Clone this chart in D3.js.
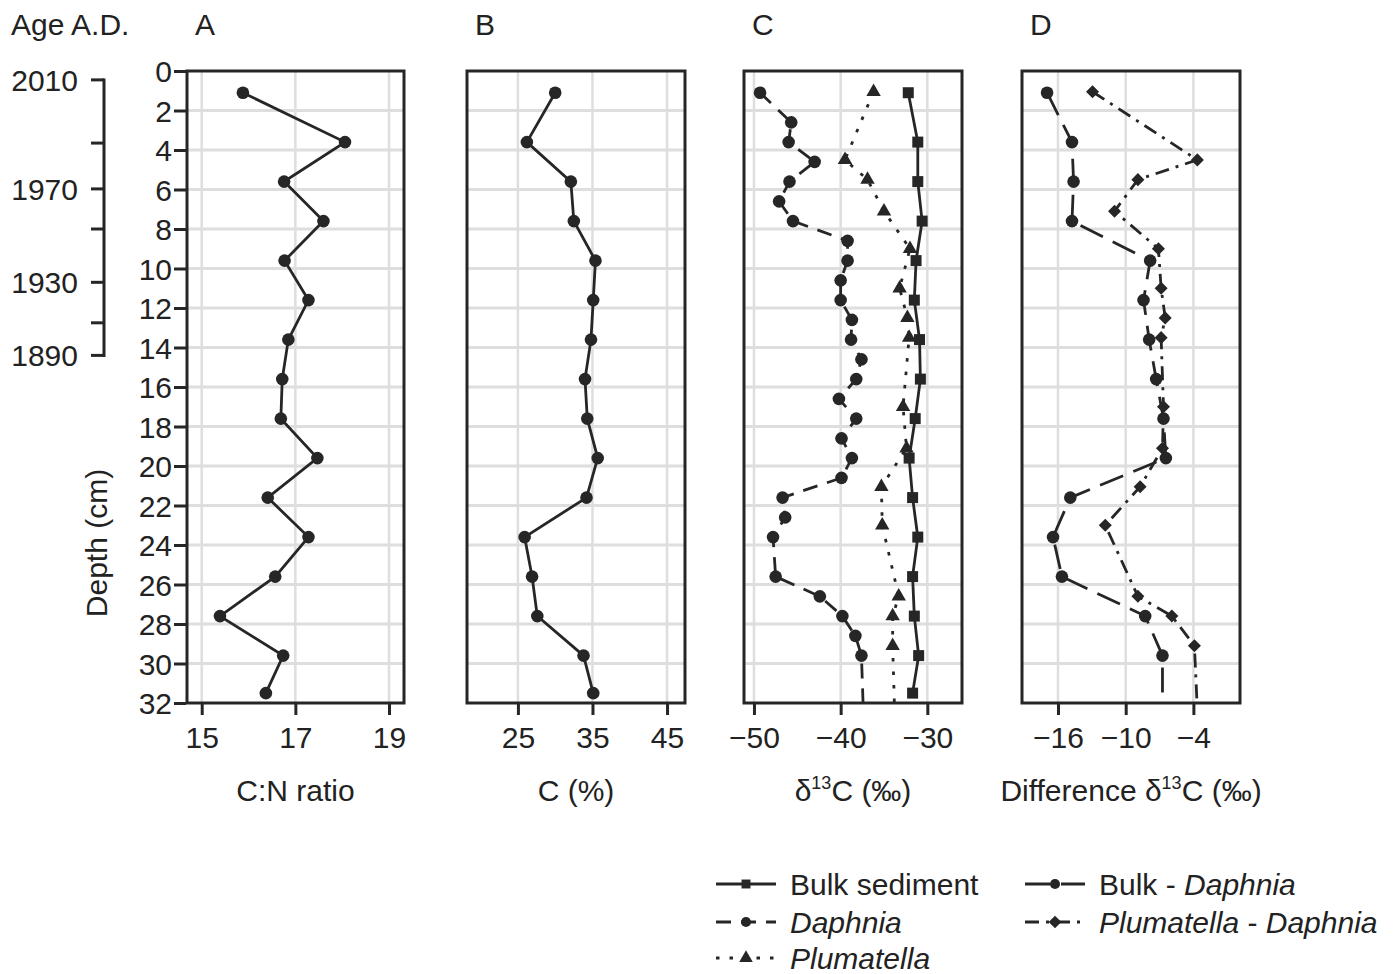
<!DOCTYPE html>
<html>
<head>
<meta charset="utf-8">
<script src="https://cdn.jsdelivr.net/npm/d3@7"></script>
<style>
  body { margin: 0; background: #fff; }
  text { font-family: "Liberation Sans", Arial, sans-serif; fill: #222; }
</style>
</head>
<body>
<svg width="1399" height="974"></svg>
<script>
// depth of the sediment samples (cm)
const depthSed = [1.1, 3.6, 5.6, 7.6, 9.6, 11.6, 13.6, 15.6, 17.6, 19.6, 21.6, 23.6, 25.6, 27.6, 29.6, 31.5];
// A: C:N ratio
const cnRatio = [15.88, 18.06, 16.76, 17.6, 16.77, 17.28, 16.85, 16.72, 16.69, 17.47, 16.41, 17.28, 16.57, 15.39, 16.74, 16.37];
// B: C (%)
const carbonPct = [30.0, 26.2, 32.1, 32.5, 35.4, 35.1, 34.8, 34.0, 34.3, 35.7, 34.2, 25.9, 26.9, 27.6, 33.8, 35.1];
// C: d13C bulk sediment
const bulkD13C = [-32.2, -31.1, -31.1, -30.6, -31.3, -31.5, -30.9, -30.8, -31.4, -32.1, -31.7, -31.1, -31.7, -31.5, -31.0, -31.7];
// C: d13C Daphnia
const daphniaDepth = [1.1, 2.6, 3.6, 4.6, 5.6, 6.6, 7.6, 8.6, 9.6, 10.6, 11.6, 12.6, 13.6, 14.6, 15.6, 16.6, 17.6, 18.6, 19.6, 20.6, 21.6, 22.6, 23.6, 25.6, 26.6, 27.6, 28.6, 29.6, 33.5];
const daphniaD13C = [-49.3, -45.7, -46.0, -43.0, -45.9, -47.1, -45.5, -39.2, -39.2, -40.0, -40.0, -38.7, -38.8, -37.6, -38.2, -40.2, -38.2, -39.9, -38.7, -39.9, -46.7, -46.4, -47.8, -47.5, -42.4, -39.8, -38.3, -37.6, -37.3];
// C: d13C Plumatella
const plumDepth = [1.05, 4.5, 5.5, 7.1, 9.0, 11.0, 12.5, 13.5, 17.0, 19.1, 21.05, 23.0, 26.6, 27.6, 29.1, 33.5];
const plumD13C = [-36.2, -39.5, -36.9, -35.0, -32.0, -33.2, -32.3, -32.1, -32.8, -32.4, -35.3, -35.2, -33.3, -34.0, -34.0, -33.7];
// D: differences
const bulkDaphDepth = [1.1, 3.6, 5.6, 7.6, 9.6, 11.6, 13.6, 15.6, 17.6, 19.6, 21.6, 23.6, 25.6, 27.6, 29.6, 33.5];
const bulkDaphDiff = [-16.97, -14.76, -14.62, -14.76, -7.83, -8.42, -7.92, -7.30, -6.65, -6.44, -14.91, -16.44, -15.65, -8.27, -6.74, -6.74];
const plumDaphDiff = [-12.94, -3.65, -8.92, -10.99, -7.1, -6.86, -6.5, -6.86, -6.65, -6.74, -8.72, -11.81, -8.92, -5.91, -3.91, -3.56];

// age scale (years A.D.) against depth
const ageYears = [2010, 1990, 1970, 1950, 1930, 1910, 1890];
const ageDepth = [0.45, 3.65, 5.97, 8.0, 10.7, 12.75, 14.4];
const ageLabeled = [2010, 1970, 1930, 1890];

const ink = "#262626";
const grid = "#dedede";
const fs = 30;
const svg = d3.select("svg");
const y = d3.scaleLinear().domain([0, 32]).range([71, 703]);
const depthTicks = d3.range(0, 33, 2);
const fmt = d3.format("d");

const zip = (ds, vs) => ds.map((d, i) => ({ d: d, v: vs[i] }));

const sym = {
  circle: d3.symbol().type(d3.symbolCircle).size(125),
  square: d3.symbol().type(d3.symbolSquare).size(121),
  triangle: d3.symbol().type(d3.symbolTriangle).size(90),
  diamond: d3.symbol().type(d3.symbolSquare).size(85)
};

const panels = [
  { key: "A", x0: 187, x1: 404, domain: [14.686, 19.32], ticks: [15, 17, 19], title: "C:N ratio", yAxis: true,
    series: [{ data: zip(depthSed, cnRatio), sym: "circle", dash: null }] },
  { key: "B", x0: 467, x1: 685, domain: [18.17, 47.41], ticks: [25, 35, 45], title: "C (%)",
    series: [{ data: zip(depthSed, carbonPct), sym: "circle", dash: null }] },
  { key: "C", x0: 744, x1: 962, domain: [-51.15, -26.0], ticks: [-50, -40, -30], title: ["δ", "13", "C (‰)"],
    series: [
      { data: zip(depthSed, bulkD13C), sym: "square", dash: null },
      { data: zip(daphniaDepth, daphniaD13C), sym: "circle", dash: "15,10" },
      { data: zip(plumDepth, plumD13C), sym: "triangle", dash: "3.5,10" }
    ] },
  { key: "D", x0: 1022, x1: 1240, domain: [-19.19, 0.13], ticks: [-16, -10, -4], title: ["Difference δ", "13", "C (‰)"],
    series: [
      { data: zip(bulkDaphDepth, bulkDaphDiff), sym: "circle", dash: "25,11" },
      { data: zip(plumDepth, plumDaphDiff), sym: "diamond", dash: "14,7,3,7" }
    ] }
];

panels.forEach(p => {
  const x = d3.scaleLinear().domain(p.domain).range([p.x0, p.x1]);
  const g = svg.append("g");

  g.append("clipPath").attr("id", "clip" + p.key)
    .append("rect").attr("x", p.x0).attr("y", y(0)).attr("width", p.x1 - p.x0).attr("height", y(32) - y(0));

  // grid
  g.selectAll(".hg").data(depthTicks.slice(1, -1)).enter().append("line")
    .attr("x1", p.x0).attr("x2", p.x1).attr("y1", d => y(d)).attr("y2", d => y(d))
    .attr("stroke", grid).attr("stroke-width", 3);
  g.selectAll(".vg").data(p.ticks).enter().append("line")
    .attr("x1", d => x(d)).attr("x2", d => x(d)).attr("y1", y(0)).attr("y2", y(32))
    .attr("stroke", grid).attr("stroke-width", 2.5);

  // x axis
  const xa = g.append("g").attr("transform", `translate(0,${y(32) + 1})`)
    .call(d3.axisBottom(x).tickValues(p.ticks).tickFormat(fmt).tickSize(11).tickPadding(12));
  xa.select(".domain").remove();
  xa.selectAll("line").attr("stroke", ink).attr("stroke-width", 3);
  xa.selectAll("text").attr("font-size", fs).attr("fill", ink).style("font-family", "Liberation Sans, Arial, sans-serif");

  if (p.yAxis) {
    const ya = g.append("g").attr("transform", `translate(${p.x0 - 1},0)`)
      .call(d3.axisLeft(y).tickValues(depthTicks).tickFormat(fmt).tickSize(12).tickPadding(2));
    ya.select(".domain").remove();
    ya.selectAll("line").attr("stroke", ink).attr("stroke-width", 3);
    ya.selectAll("text").attr("font-size", fs).attr("fill", ink).attr("dy", "0.36em")
      .style("font-family", "Liberation Sans, Arial, sans-serif");
  }

  // series
  const line = d3.line().x(d => x(d.v)).y(d => y(d.d));
  const sg = g.append("g").attr("clip-path", `url(#clip${p.key})`);
  p.series.forEach(s => {
    sg.append("path").datum(s.data).attr("d", line).attr("fill", "none")
      .attr("stroke", ink).attr("stroke-width", 2.8)
      .attr("stroke-dasharray", s.dash);
    sg.selectAll(null).data(s.data).enter().append("path")
      .attr("d", sym[s.sym])
      .attr("transform", d => `translate(${x(d.v)},${y(d.d)})` + (s.sym === "diamond" ? " rotate(45)" : ""))
      .attr("fill", ink);
  });

  // frame
  g.append("rect").attr("x", p.x0).attr("y", y(0)).attr("width", p.x1 - p.x0).attr("height", y(32) - y(0))
    .attr("fill", "none").attr("stroke", ink).attr("stroke-width", 3);

  // panel letter
  svg.append("text").attr("x", p.x0 + 8).attr("y", 35).attr("font-size", fs).text(p.key);

  // axis title
  const t = svg.append("text").attr("x", (p.x0 + p.x1) / 2).attr("y", 801)
    .attr("text-anchor", "middle").attr("font-size", fs);
  if (typeof p.title === "string") t.text(p.title);
  else {
    t.append("tspan").text(p.title[0]);
    t.append("tspan").attr("font-size", 18).attr("dy", -12).text(p.title[1]);
    t.append("tspan").attr("dy", 12).text(p.title[2]);
  }
});

// age axis
svg.append("text").attr("x", 11).attr("y", 35).attr("font-size", fs).text("Age A.D.");
const ageG = svg.append("g");
ageG.append("line").attr("x1", 104).attr("x2", 104)
  .attr("y1", y(ageDepth[0]) - 1.5).attr("y2", y(ageDepth[ageDepth.length - 1]) + 1.5)
  .attr("stroke", ink).attr("stroke-width", 3);
ageG.selectAll(".at").data(ageDepth).enter().append("line")
  .attr("x1", 91).attr("x2", 104).attr("y1", d => y(d)).attr("y2", d => y(d))
  .attr("stroke", ink).attr("stroke-width", 3);
ageG.selectAll(".al").data(ageYears.filter(a => ageLabeled.includes(a))).enter().append("text")
  .attr("x", 78).attr("y", a => y(ageDepth[ageYears.indexOf(a)]))
  .attr("dy", "0.36em").attr("text-anchor", "end").attr("font-size", fs).text(a => a);

// depth title
svg.append("text").attr("transform", "translate(107,543) rotate(-90)")
  .attr("text-anchor", "middle").attr("font-size", fs).text("Depth (cm)");

// legend
const legendItems = [
  { col: 0, row: 0, sym: "square", dash: null, parts: [["Bulk sediment", false]] },
  { col: 0, row: 1, sym: "circle", dash: "15,10", parts: [["Daphnia", true]] },
  { col: 0, row: 2, sym: "triangle", dash: "3.5,10", parts: [["Plumatella", true]] },
  { col: 1, row: 0, sym: "circle", dash: "25,11", parts: [["Bulk - ", false], ["Daphnia", true]] },
  { col: 1, row: 1, sym: "diamond", dash: "14,7,3,7", parts: [["Plumatella", true], [" - ", false], ["Daphnia", true]] }
];
const legX = [716, 1025];
const legY = [884, 922, 958];
legendItems.forEach(it => {
  const lx = legX[it.col], ly = legY[it.row];
  const lg = svg.append("g");
  lg.append("line").attr("x1", lx).attr("x2", lx + 60).attr("y1", ly).attr("y2", ly)
    .attr("stroke", ink).attr("stroke-width", 2.8).attr("stroke-dasharray", it.dash);
  lg.append("path").attr("d", d3.symbol().type(
      it.sym === "square" || it.sym === "diamond" ? d3.symbolSquare :
      it.sym === "triangle" ? d3.symbolTriangle : d3.symbolCircle).size(80))
    .attr("transform", `translate(${lx + 30},${ly})` + (it.sym === "diamond" ? " rotate(45)" : ""))
    .attr("fill", ink);
  const t = lg.append("text").attr("x", lx + 74).attr("y", ly).attr("dy", "0.36em").attr("font-size", fs);
  it.parts.forEach(pt => t.append("tspan").attr("font-style", pt[1] ? "italic" : "normal").text(pt[0]));
});
</script>
</body>
</html>
